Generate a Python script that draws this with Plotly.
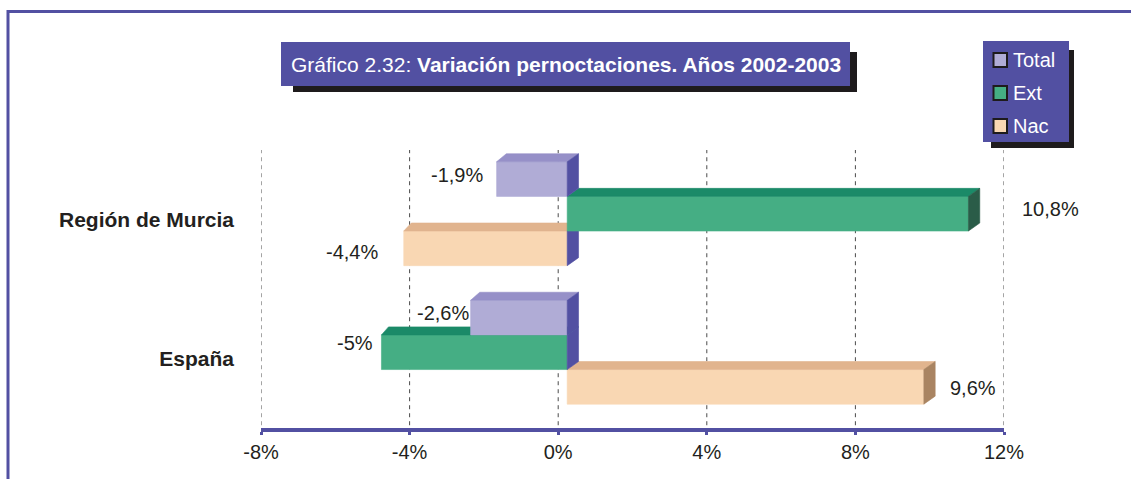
import plotly.graph_objects as go

# ---- data -------------------------------------------------------------
categories = ["Región de Murcia", "España"]
series = ["Total", "Ext", "Nac"]
total = [-1.9, -2.6]
ext = [10.8, -5.0]
nac = [-4.4, 9.6]
x_ticks = [-8, -4, 0, 4, 8, 12]

values = {"Total": total, "Ext": ext, "Nac": nac}

# ---- style ------------------------------------------------------------
FRONT = {"Total": "#b0acd6", "Ext": "#45ae84", "Nac": "#f9d7b3"}
TOP = {"Total": "#9690c8", "Ext": "#1b8a68", "Nac": "#e1b48e"}
END = {"Total": "#5250a2", "Ext": "#2a5c48", "Nac": "#a98462"}
ZERO_END = "#5250a2"
PURPLE = "#5250a2"
INK = "#231f20"
FONT = "Liberation Sans, Arial, Helvetica, sans-serif"

W, H = 1131, 479
ML, MR, MT, MB = 261, 127, 150, 51
PW, PH = W - ML - MR, H - MT - MB

X_RANGE = [-8, 12]
Y_RANGE = [-0.547, 1.46]
CAT_POS = {"Región de Murcia": 1.0, "España": 0.0}
SERIES_OFFSET = {"Total": 0.25, "Ext": 0.0, "Nac": -0.25}
BAR_H = 0.25
BASE = 0.2424        # front faces start slightly right of the zero gridline
DEPTH_X = 0.305      # oblique depth of the 3D boxes (x units)
DEPTH_Y = 0.058      # oblique depth of the 3D boxes (y units)
NEG_STRETCH = 1.023  # back edges spread a little more on the negative side

# label nudges in pixels (xshift, yshift)
LABEL_NUDGE = {
    ("Región de Murcia", "Total"): (-12, 4),
    ("Región de Murcia", "Ext"): (52, 5),
    ("Región de Murcia", "Nac"): (-24, -4),
    ("España", "Total"): (0, 5),
    ("España", "Ext"): (-6, 9),
    ("España", "Nac"): (24, -1),
}


def px(x):
    return (x - ML) / PW


def py(y):
    return (H - MB - y) / PH


def back_x(v):
    return BASE + DEPTH_X + (v * NEG_STRETCH if v < 0 else v)


def fmt(v):
    s = f"{v:.1f}".rstrip("0").rstrip(".")
    return s.replace(".", ",") + "%"


def poly(xs, ys, color):
    return go.Scatter(
        x=xs + [xs[0]], y=ys + [ys[0]], mode="lines", fill="toself",
        fillcolor=color, line=dict(color=color, width=0.6),
        hoverinfo="skip", showlegend=False,
    )


fig = go.Figure()
annotations = []
shapes = []

# dashed vertical gridlines at every tick, including both ends of the axis
for t in x_ticks:
    shapes.append(dict(type="line", xref="x", yref="paper", layer="below",
                       x0=t, x1=t, y0=0.01, y1=1,
                       line=dict(color="#4a4a4a", width=1, dash="4px,4px")))

# bars: lower series first so upper boxes cover the tops behind them
for ci, cat in enumerate(categories):
    for s in ["Nac", "Ext", "Total"]:
        v = values[s][ci]
        lo, hi = min(v, 0.0), max(v, 0.0)
        x_lo, x_hi = BASE + lo, BASE + hi
        b_lo, b_hi = back_x(lo), back_x(hi)
        yc = CAT_POS[cat] + SERIES_OFFSET[s]
        yb, yt = yc - BAR_H / 2, yc + BAR_H / 2

        fig.add_trace(poly([x_lo, x_hi, x_hi, x_lo], [yb, yb, yt, yt], FRONT[s]))
        fig.add_trace(poly([x_lo, x_hi, b_hi, b_lo],
                           [yt, yt, yt + DEPTH_Y, yt + DEPTH_Y], TOP[s]))
        fig.add_trace(poly([x_hi, x_hi, b_hi, b_hi],
                           [yb, yt, yt + DEPTH_Y, yb + DEPTH_Y],
                           END[s] if v > 0 else ZERO_END))

        dx, dy = LABEL_NUDGE[(cat, s)]
        annotations.append(dict(
            x=BASE + v, y=yc, xref="x", yref="y", text=fmt(v),
            xanchor="right" if v < 0 else "left", yanchor="middle",
            xshift=dx, yshift=dy, showarrow=False,
            font=dict(family=FONT, size=20, color=INK),
        ))

# outer frame (top and left edges)
shapes.append(dict(type="line", xref="paper", yref="paper",
                   x0=px(7), x1=px(W + 20), y0=py(11.5), y1=py(11.5),
                   line=dict(color=PURPLE, width=3)))
shapes.append(dict(type="line", xref="paper", yref="paper",
                   x0=px(8), x1=px(8), y0=py(10), y1=py(H + 20),
                   line=dict(color=PURPLE, width=3)))

# title box with drop shadow
shapes.append(dict(type="rect", xref="paper", yref="paper",
                   x0=px(293), x1=px(857), y0=py(52), y1=py(92),
                   fillcolor="#1e1b1c", line=dict(width=0)))
shapes.append(dict(type="rect", xref="paper", yref="paper",
                   x0=px(281), x1=px(850), y0=py(42), y1=py(86),
                   fillcolor=PURPLE, line=dict(width=0)))
annotations.append(dict(
    x=px(289), y=py(65), xref="paper", yref="paper",
    xanchor="left", yanchor="middle", showarrow=False,
    text="Gráfico 2.32: <b>Variación pernoctaciones. Años 2002-2003</b>",
    font=dict(family=FONT, size=21, color="white"),
))

# legend box with drop shadow
shapes.append(dict(type="rect", xref="paper", yref="paper",
                   x0=px(991), x1=px(1074), y0=py(50), y1=py(148),
                   fillcolor="#1e1b1c", line=dict(width=0)))
shapes.append(dict(type="rect", xref="paper", yref="paper",
                   x0=px(983), x1=px(1069), y0=py(41), y1=py(142),
                   fillcolor=PURPLE, line=dict(width=0)))
LEGEND_Y = {"Total": 60, "Ext": 93, "Nac": 126}
for s in series:
    yc = LEGEND_Y[s]
    shapes.append(dict(type="rect", xref="paper", yref="paper",
                       x0=px(993.5), x1=px(1007), y0=py(yc - 7), y1=py(yc + 7),
                       fillcolor=FRONT[s], line=dict(color="#1e1b1c", width=2)))
    annotations.append(dict(
        x=px(1011), y=py(yc), xref="paper", yref="paper",
        xanchor="left", yanchor="middle", showarrow=False, text=s,
        font=dict(family=FONT, size=20, color="white"),
    ))

fig.update_layout(
    width=W, height=H,
    margin=dict(l=ML, r=MR, t=MT, b=MB, pad=0),
    paper_bgcolor="white", plot_bgcolor="white",
    showlegend=False,
    font=dict(family=FONT, color=INK),
    shapes=shapes,
    annotations=annotations,
    xaxis=dict(
        range=X_RANGE, tickvals=x_ticks,
        ticktext=[f"{t}%" for t in x_ticks],
        showgrid=False, zeroline=False,
        showline=True, linecolor=PURPLE, linewidth=4,
        ticks="outside", ticklen=3, tickwidth=3, tickcolor=PURPLE,
        tickfont=dict(family=FONT, size=20, color=INK),
        fixedrange=True,
    ),
    yaxis=dict(
        range=Y_RANGE,
        tickvals=[CAT_POS[c] for c in categories],
        ticktext=[f"<b>{c}</b>" for c in categories],
        showgrid=False, zeroline=False, showline=False, ticks="",
        tickfont=dict(family=FONT, size=21, color=INK),
        ticklabelstandoff=26, ticklabelshift=6,
        fixedrange=True,
    ),
)

fig.write_html("out.html")
